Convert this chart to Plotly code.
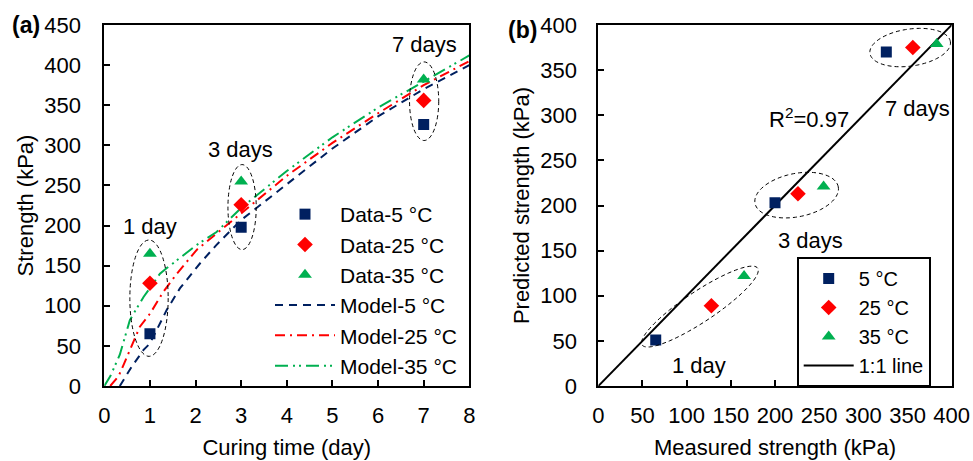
import numpy as np
import plotly.graph_objects as go

# ---------------- data ----------------
days = [1, 3, 7]
data_5 = [65, 198, 326]
data_25 = [128, 226, 356]
data_35 = [165, 255, 382]

model5_t = [0.34, 0.6, 0.86, 1.0, 1.37, 1.66, 2.1, 2.46, 3.0, 4.0, 5.0, 6.0, 7.0, 8.0]
model5_v = [0, 24, 45, 53, 95, 122, 153, 176, 207, 251, 296, 336, 370, 400]
model25_t = [0.13, 0.31, 0.42, 0.64, 0.78, 1.0, 1.29, 1.59, 2.03, 2.46, 3.0, 4.0, 5.0, 6.0, 7.0, 8.0]
model25_v = [0, 12, 26, 55, 74, 90, 117, 140, 170, 190, 215, 262, 303, 340, 375, 405]
model35_t = [0, 0.13, 0.34, 0.56, 0.67, 0.86, 1.0, 1.22, 1.37, 1.81, 2.03, 2.46, 3.0, 4.0, 5.0, 6.0, 7.0, 8.0]
model35_v = [0, 12, 39, 82, 93, 111, 122, 140, 147, 167, 176, 192, 222, 268, 310, 347, 380, 412]

meas_5 = [65, 200, 326]
pred_5 = [51, 203, 370]
meas_25 = [128, 226, 356]
pred_25 = [89, 213, 375]
meas_35 = [165, 255, 383]
pred_35 = [122, 221, 379]
one_to_one = [0, 400]

NAVY = "#002060"
RED = "#FF0000"
GREEN = "#00B050"
FONT = "Liberation Sans, Arial, sans-serif"
FS = 22

fig = go.Figure()

# ---------- left panel ----------
fig.add_trace(go.Scatter(x=model5_t, y=model5_v, mode="lines", name="Model-5 °C",
                         line=dict(color=NAVY, width=2, dash="8px,6px"),
                         legend="legend", legendrank=4))
fig.add_trace(go.Scatter(x=model25_t, y=model25_v, mode="lines", name="Model-25 °C",
                         line=dict(color=RED, width=2, dash="10px,5px,2px,5px"),
                         legend="legend", legendrank=5))
fig.add_trace(go.Scatter(x=model35_t, y=model35_v, mode="lines", name="Model-35 °C",
                         line=dict(color=GREEN, width=2, dash="13px,5px,2px,4px,2px,5px"),
                         legend="legend", legendrank=6))
fig.add_trace(go.Scatter(x=days, y=data_5, mode="markers", name="Data-5 °C",
                         marker=dict(symbol="square", size=11, color=NAVY),
                         legend="legend", legendrank=1))
fig.add_trace(go.Scatter(x=days, y=data_25, mode="markers", name="Data-25 °C",
                         marker=dict(symbol="diamond", size=12, color=RED),
                         legend="legend", legendrank=2))
fig.add_trace(go.Scatter(x=days, y=data_35, mode="markers", name="Data-35 °C",
                         marker=dict(symbol="triangle-up", size=12, color=GREEN),
                         legend="legend", legendrank=3))

# ---------- right panel ----------
fig.add_trace(go.Scatter(x=one_to_one, y=one_to_one, mode="lines", name="1:1 line",
                         line=dict(color="black", width=2), xaxis="x2", yaxis="y2",
                         legend="legend2", legendrank=4))
fig.add_trace(go.Scatter(x=meas_5, y=pred_5, mode="markers", name="5 °C",
                         marker=dict(symbol="square", size=11, color=NAVY),
                         xaxis="x2", yaxis="y2", legend="legend2", legendrank=1))
fig.add_trace(go.Scatter(x=meas_25, y=pred_25, mode="markers", name="25 °C",
                         marker=dict(symbol="diamond", size=12, color=RED),
                         xaxis="x2", yaxis="y2", legend="legend2", legendrank=2))
fig.add_trace(go.Scatter(x=meas_35, y=pred_35, mode="markers", name="35 °C",
                         marker=dict(symbol="triangle-up", size=12, color=GREEN),
                         xaxis="x2", yaxis="y2", legend="legend2", legendrank=3))

# ---------- ellipses ----------
shapes = []
left_ellipses = [(0.56, 1.40, 37, 182), (2.71, 3.33, 170, 276), (6.69, 7.33, 306, 404)]
for x0, x1, y0, y1 in left_ellipses:
    shapes.append(dict(type="circle", xref="x", yref="y", x0=x0, x1=x1, y0=y0, y1=y1,
                       line=dict(color="black", width=1, dash="4px,3px")))


def ellipse_path(cx, cy, a, b, ang):
    th = np.radians(ang)
    t = np.linspace(0, 2 * np.pi, 90)
    xs = cx + a * np.cos(t) * np.cos(th) - b * np.sin(t) * np.sin(th)
    ys = cy + a * np.cos(t) * np.sin(th) + b * np.sin(t) * np.cos(th)
    return "M " + " L ".join(f"{x:.2f},{y:.2f}" for x, y in zip(xs, ys)) + " Z"


right_ellipses = [(115, 88, 78, 17, 33), (224.5, 211.5, 48, 24, 11), (353, 375, 46, 20.5, 8)]
for cx, cy, a, b, ang in right_ellipses:
    shapes.append(dict(type="path", xref="x2", yref="y2", path=ellipse_path(cx, cy, a, b, ang),
                       line=dict(color="black", width=1, dash="4px,3px")))

# ---------- annotations ----------
ann = []
def txt(x, y, s, xref="x", yref="y", size=FS, **kw):
    ann.append(dict(x=x, y=y, xref=xref, yref=yref, text=s, showarrow=False,
                    xanchor="center", yanchor="middle",
                    font=dict(size=size, color="black", family=FONT), **kw))

txt(1.0, 199, "1 day")
txt(2.98, 295, "3 days")
txt(7.02, 426, "7 days")
txt(239, 297, "R<sup>2</sup>=0.97", xref="x2", yref="y2")
txt(361, 307, "7 days", xref="x2", yref="y2")
txt(240, 161, "3 days", xref="x2", yref="y2")
txt(114, 23, "1 day", xref="x2", yref="y2")
txt(26 / 973, 1 - 25 / 461, "<b>(a)</b>", xref="paper", yref="paper", size=23)
txt(522 / 973, 1 - 30 / 461, "<b>(b)</b>", xref="paper", yref="paper", size=23)

axis_common = dict(showline=True, linecolor="black", linewidth=2, mirror=True,
                   ticks="inside", ticklen=6, tickwidth=1.5, tickcolor="black",
                   showgrid=False, zeroline=False,
                   tickfont=dict(size=FS, color="black", family=FONT),
                   title_font=dict(size=FS, color="black", family=FONT),
                   automargin=False)

fig.update_layout(
    width=973, height=461,
    margin=dict(l=0, r=0, t=0, b=0),
    paper_bgcolor="white", plot_bgcolor="white",
    font=dict(family=FONT, size=FS, color="black"),
    xaxis=dict(domain=[104.3 / 973, 469.3 / 973], range=[0, 8], dtick=1,
               title=dict(text="Curing time (day)", standoff=12), ticklabelstandoff=9, **axis_common),
    yaxis=dict(domain=[1 - 386 / 461, 1 - 25 / 461], range=[0, 450], dtick=50,
               title=dict(text="Strength (kPa)", standoff=4), ticklabelstandoff=17, **axis_common),
    xaxis2=dict(domain=[598.3 / 973, 951.7 / 973], range=[0, 400], dtick=50, anchor="y2",
                title=dict(text="Measured strength (kPa)", standoff=12), ticklabelstandoff=9, **axis_common),
    yaxis2=dict(domain=[1 - 386 / 461, 1 - 25 / 461], range=[0, 400], dtick=50, anchor="x2",
                title=dict(text="Predicted strength (kPa)", standoff=4), ticklabelstandoff=15, **axis_common),
    legend=dict(x=270 / 973, y=1 - 194 / 461, xanchor="left", yanchor="top",
                bgcolor="rgba(0,0,0,0)", borderwidth=0, itemwidth=60,
                font=dict(size=21, family=FONT, color="black"), tracegroupgap=0),
    legend2=dict(x=796.7 / 973, y=1 - 257 / 461, xanchor="left", yanchor="top",
                 bgcolor="white", bordercolor="black", borderwidth=2, itemwidth=50,
                 font=dict(size=20, family=FONT, color="black"), tracegroupgap=0),
    shapes=shapes,
    annotations=ann,
)

fig.write_html("out.html")
